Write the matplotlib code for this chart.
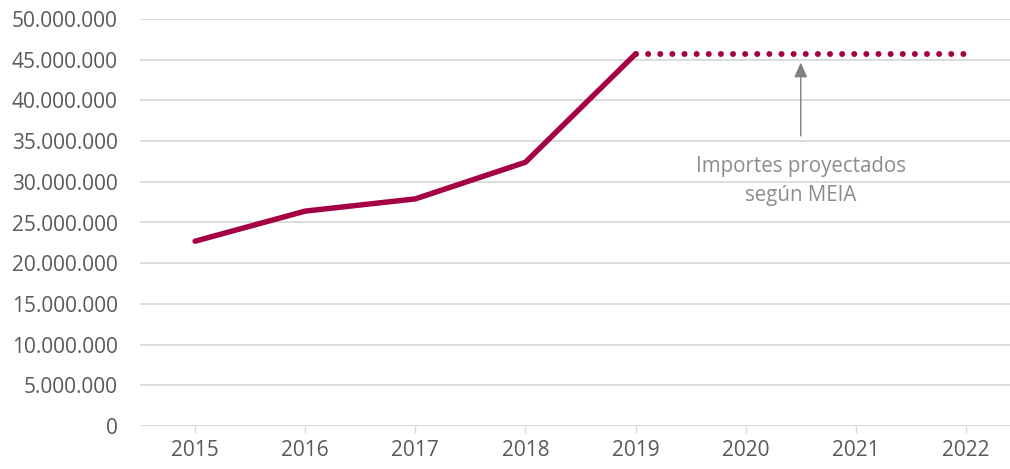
import numpy as np
import matplotlib.pyplot as plt
from matplotlib.ticker import FuncFormatter

plt.rcParams['font.family'] = ['Open Sans', 'DejaVu Sans']

# importes reales y proyectados
years_real = [2015, 2016, 2017, 2018, 2019]
importes_real = [22700000, 26400000, 27900000, 32400000, 45700000]
years_proy = [2019, 2020, 2021, 2022]
importes_proy = [45700000, 45700000, 45700000, 45700000]
all_years = [2015, 2016, 2017, 2018, 2019, 2020, 2021, 2022]

color_line = '#A50044'
color_grid = '#D9D9D9'
color_text = '#595959'


def miles(v, pos):
    return '{:,.0f}'.format(v).replace(',', '.')


fig = plt.figure(figsize=(10.10, 4.69), dpi=100)
ax = fig.add_axes([140 / 1010, 43 / 469, 881 / 1010, 407 / 469])

ax.plot(years_real, importes_real, color=color_line, linewidth=3.9,
        solid_capstyle='round', solid_joinstyle='round', zorder=3)
# proyeccion punteada
ax.plot(years_proy, importes_proy, color=color_line, linewidth=4.3,
        linestyle=(0, (0.01, 2.02)), dash_capstyle='round', zorder=3)

ax.set_xlim(2014.5, 2022.5)
ax.set_ylim(0, 50000000)
ax.set_yticks(np.arange(0, 50000001, 5000000))
ax.yaxis.set_major_formatter(FuncFormatter(miles))
ax.set_xticks(all_years)
ax.set_xticklabels([str(y) for y in all_years])

ax.grid(axis='y', color=color_grid, linewidth=1.3)
ax.set_axisbelow(True)
for s in ax.spines.values():
    s.set_visible(False)

ax.tick_params(axis='y', length=0, pad=16, labelsize=15, labelcolor=color_text)
ax.tick_params(axis='x', length=5, width=1, color=color_grid, pad=5,
               labelsize=15, labelcolor=color_text)

ax.annotate('', xy=(2020.5, 45000000), xytext=(2020.5, 35300000),
            arrowprops=dict(arrowstyle='-|>,head_length=0.9,head_width=0.4',
                            color='#808080', lw=1))
ax.text(2020.5, 30100000, 'Importes proyectados\nsegún MEIA', ha='center', va='center',
        fontsize=14.8, color='#8C8C8C', linespacing=1.55)

fig.savefig('out.png', dpi=100)
